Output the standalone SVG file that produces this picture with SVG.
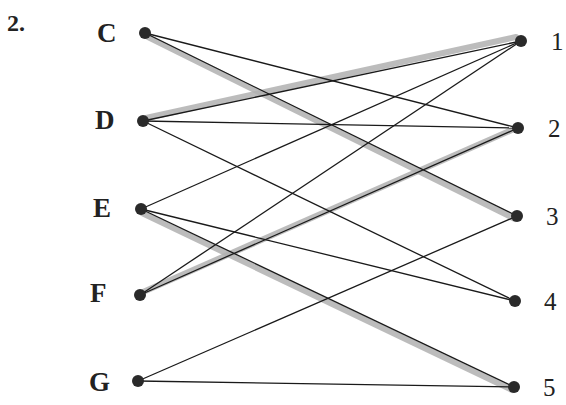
<svg xmlns="http://www.w3.org/2000/svg" width="566" height="405" viewBox="0 0 566 405">
<style>
.lbl{font-family:"Liberation Serif","Times New Roman",serif;font-weight:bold;font-size:27px;fill:#222}
.num{font-family:"Liberation Serif","Times New Roman",serif;font-size:25px;fill:#222}
.e{stroke:#1a1a1a;stroke-width:1.3;fill:none}
.h{stroke:#b0b0b0;stroke-width:6;stroke-linecap:round;fill:none;opacity:0.85}
.dot{fill:#2a2a2a}
</style>
<rect width="566" height="405" fill="#fff"/>
<text x="7" y="31" class="lbl" style="font-size:24px">2.</text>
<g id="connectors">
<line class="h" x1="148" y1="37" x2="515" y2="219"/>
<line class="h" x1="146" y1="118" x2="516" y2="37"/>
<line class="h" x1="142" y1="213" x2="512" y2="390"/>
<line class="h" x1="143" y1="292" x2="514" y2="129"/>
<line class="e" x1="145" y1="33" x2="517" y2="216"/>
<line class="e" x1="145" y1="33" x2="518" y2="128"/>
<line class="e" x1="143" y1="121" x2="521" y2="41"/>
<line class="e" x1="143" y1="121" x2="518" y2="128"/>
<line class="e" x1="143" y1="121" x2="515" y2="301"/>
<line class="e" x1="141" y1="209" x2="521" y2="41"/>
<line class="e" x1="141" y1="209" x2="515" y2="301"/>
<line class="e" x1="141" y1="209" x2="514" y2="387"/>
<line class="e" x1="140" y1="295" x2="521" y2="41"/>
<line class="e" x1="140" y1="295" x2="518" y2="128"/>
<line class="e" x1="138" y1="381" x2="517" y2="216"/>
<line class="e" x1="138" y1="381" x2="514" y2="387"/>
</g>
<g id="C"><circle class="dot" cx="145" cy="33" r="6"/><text class="lbl" x="97" y="42">C</text></g>
<g id="D"><circle class="dot" cx="143" cy="121" r="6"/><text class="lbl" x="95" y="129">D</text></g>
<g id="E"><circle class="dot" cx="141" cy="209" r="6"/><text class="lbl" x="93" y="217">E</text></g>
<g id="F"><circle class="dot" cx="140" cy="295" r="6"/><text class="lbl" x="90" y="302">F</text></g>
<g id="G"><circle class="dot" cx="138" cy="381" r="6"/><text class="lbl" x="89" y="391">G</text></g>
<g id="n1"><circle class="dot" cx="521" cy="41" r="6"/><text class="num" x="551" y="50">1</text></g>
<g id="n2"><circle class="dot" cx="518" cy="128" r="6"/><text class="num" x="548" y="137">2</text></g>
<g id="n3"><circle class="dot" cx="517" cy="216" r="6"/><text class="num" x="546" y="225">3</text></g>
<g id="n4"><circle class="dot" cx="515" cy="301" r="6"/><text class="num" x="544" y="310">4</text></g>
<g id="n5"><circle class="dot" cx="514" cy="387" r="6"/><text class="num" x="543" y="396">5</text></g>
</svg>
